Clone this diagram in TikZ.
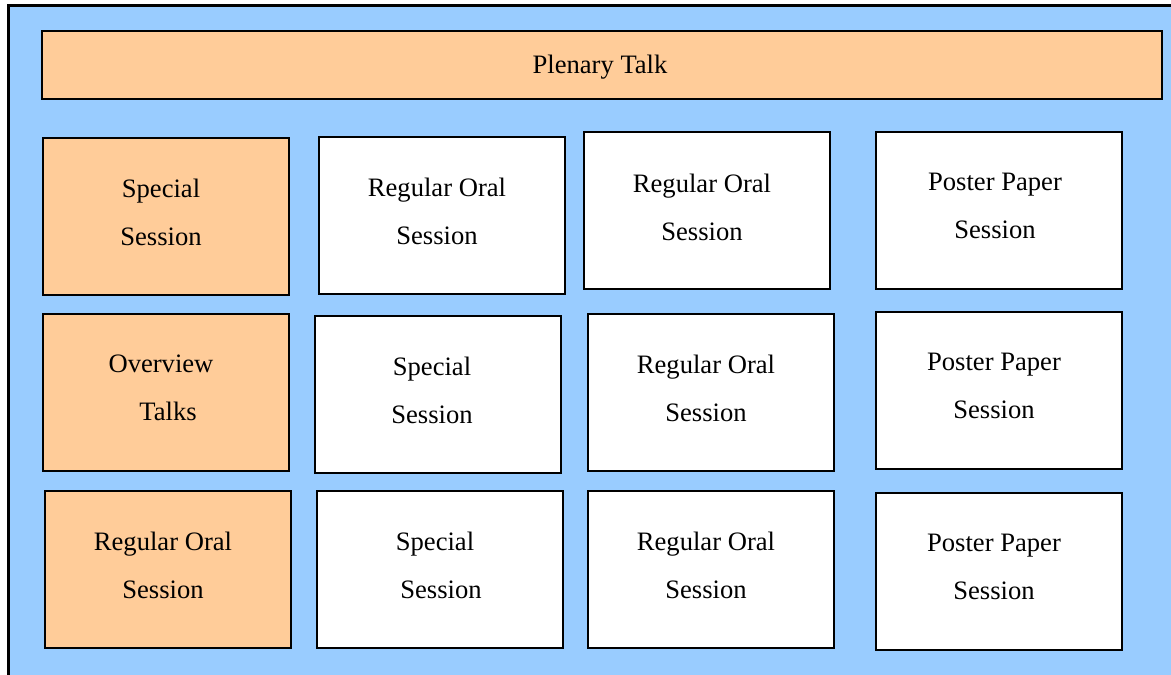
\documentclass[tikz,border=0pt]{standalone}
\usepackage{fontspec}
\setmainfont{Liberation Serif}
\definecolor{bgblue}{HTML}{99CCFF}
\definecolor{boxorange}{HTML}{FFCC99}
\tikzset{
  box/.style={draw=black, line width=2pt, fill=white, inner sep=0pt, anchor=north west, minimum width=246pt, minimum height=157pt},
  obox/.style={box, fill=boxorange},
  lbl/.style={font=\fontsize{26.6}{48}\selectfont, align=center, inner sep=0pt, text=black}
}
\begin{document}
\begin{tikzpicture}[x=1pt,y=-1pt]
\useasboundingbox (0,0) rectangle (1171,675);
\clip (0,0) rectangle (1171,675);
\draw[line width=3pt, fill=bgblue] (8.5,5.5) rectangle (1200,700);
% plenary
\node[obox, minimum width=1120pt, minimum height=68pt] (plen) at (41,30) {};
\node[lbl] (tplen) at (600,67) {Plenary Talk};
% row 1
\node[obox] (b11) at (42,137) {};
\node[lbl] (t11) at (161,212) {Special\\Session};
\node[box] (b12) at (318,136) {};
\node[lbl] (t12) at (437,211) {Regular Oral\\Session};
\node[box] (b13) at (583,131) {};
\node[lbl] (t13) at (702,207) {Regular Oral\\Session};
\node[box] (b14) at (875,131) {};
\node[lbl] (t14) at (995,206) {Poster Paper\\Session};
% row 2
\node[obox] (b21) at (42,313) {};
\node[lbl] (t21) at (161,388) {Overview\\\hspace*{14pt}Talks};
\node[box] (b22) at (314,315) {};
\node[lbl] (t22) at (432,390) {Special\\Session};
\node[box] (b23) at (587,313) {};
\node[lbl] (t23) at (706,388) {Regular Oral\\Session};
\node[box] (b24) at (875,311) {};
\node[lbl] (t24) at (994,386) {Poster Paper\\Session};
% row 3
\node[obox] (b31) at (44,490) {};
\node[lbl] (t31) at (163,565) {Regular Oral\\Session};
\node[box] (b32) at (316,490) {};
\node[lbl] (t32) at (435,565) {Special\\\hspace*{12pt}Session};
\node[box] (b33) at (587,490) {};
\node[lbl] (t33) at (706,565) {Regular Oral\\Session};
\node[box] (b34) at (875,492) {};
\node[lbl] (t34) at (994,567) {Poster Paper\\Session};
\end{tikzpicture}
\end{document}
